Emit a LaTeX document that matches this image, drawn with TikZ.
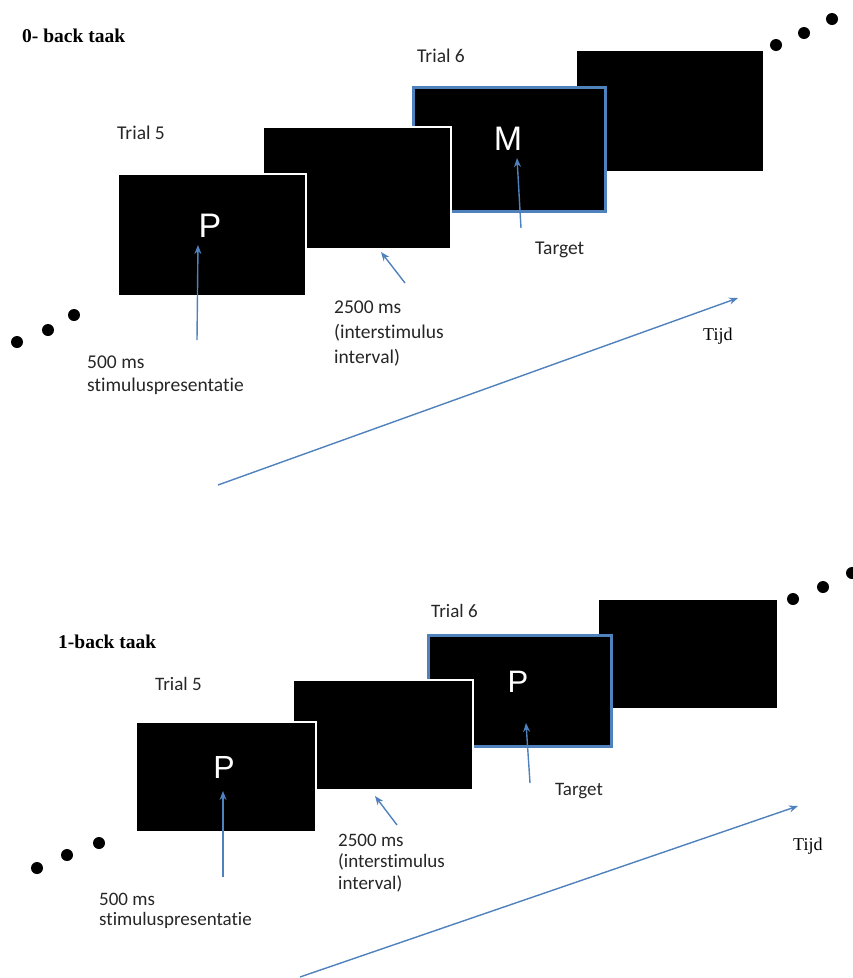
\documentclass[tikz,border=0pt]{standalone}
\usepackage{fontspec}
\setmainfont{Carlito}[Ligatures=NoCommon]
\newfontfamily\titelfont{Liberation Serif}
\newfontfamily\letterfont{Liberation Sans}
\usetikzlibrary{arrows.meta,positioning}
\definecolor{pijlblauw}{RGB}{79,129,189}

\tikzset{
  scherm/.style={fill=black, draw=white, line width=2pt, inner sep=0pt,
    minimum width=188pt, minimum height=122pt},
  klein/.style={minimum width=180pt, minimum height=110pt},
  doel/.style={draw=pijlblauw, line width=3pt},
  letter/.style={text=white, inner sep=0pt, anchor=base},
  pijl/.style={draw=pijlblauw, line width=1.4pt, -{Stealth[length=9pt,width=7pt]}},
  uitleg/.style={text=black!85, inner sep=0pt, anchor=base west, align=left},
  titel/.style={inner sep=0pt, anchor=base west, font=\titelfont\bfseries\fontsize{19.5}{20}\selectfont},
  tijd/.style={inner sep=0pt, anchor=base west, font=\titelfont\fontsize{18}{20}\selectfont}
}

\begin{document}
\begin{tikzpicture}[x=1pt, y=-1pt]
            \useasboundingbox (0,0) rectangle (853,978);
            % 0-back: screens, back to front
            \node[scherm] (s4a) at (669.5,110.5) {};
            \node[scherm, doel, minimum width=192pt, minimum height=124pt] (s3a) at (509.5,149.5) {};
            \node[scherm] (s2a) at (357,187.5) {};
            \node[scherm] (s1a) at (212,235) {};
            \node[letter, font=\letterfont\fontsize{34}{34}\selectfont] (pa) at (210,237) {P};
            \node[letter, font=\letterfont\fontsize{34}{34}\selectfont] (ma) at (508,150) {M};
            % Labels (multi-line ones sit on their last line)
            \begin{scope}[every node/.append style={font=\fontsize{19.5}{25}\selectfont}]
            \node[titel] (taak0) at (22,42) {0- back taak};
            \node[uitleg] (t5a) at (117,139) {Trial 5};
            \node[uitleg] (t6a) at (417,62) {Trial 6};
            \node[uitleg] (tga) at (535,254) {Target};
            \node[uitleg] (stima) at (87,391) {500 ms\\[-2pt]stimuluspresentatie};
            \node[uitleg] (isia) at (334,363) {2500 ms\\(interstimulus\\interval)};
            \end{scope}
            \node[tijd] (tijda) at (703,340) {Tijd};
            % Arrows
            \coordinate (sa0) at (197,340);  \coordinate (sa1) at (198,245);
            \coordinate (ia0) at (405,283);  \coordinate (ia1) at (381,252);
            \coordinate (ga0) at (521,228);  \coordinate (ga1) at (517,158);
            \coordinate (ta0) at (218,485);  \coordinate (ta1) at (738,298);
            \draw[pijl] (sa0) -- (sa1);
            \draw[pijl] (ia0) -- (ia1);
            \draw[pijl] (ga0) -- (ga1);
            \draw[pijl] (ta0) -- (ta1);
            % Dots
            \foreach \x/\y in {17/342, 48/330, 74/315, 776/45, 804/33, 832/19}
              \fill (\x,\y) circle (6pt);

            % 1-back: screens, back to front
            \node[scherm, klein] (s4b) at (687.5,654) {};
            \node[scherm, klein, doel, minimum width=183pt, minimum height=111pt] (s3b) at (520,691) {};
            \node[scherm, klein] (s2b) at (383,734.5) {};
            \node[scherm, klein] (s1b) at (226,777) {};
            \node[letter, font=\letterfont\fontsize{32}{32}\selectfont] (pb) at (224,778) {P};
            \node[letter, font=\letterfont\fontsize{31}{31}\selectfont] (pc) at (518,692) {P};
            % Labels
            \begin{scope}[every node/.append style={font=\fontsize{19}{21.5}\selectfont}]
            \node[titel] (taak1) at (58,648) {1-back taak};
            \node[uitleg] (t5b) at (155,690) {Trial 5};
            \node[uitleg] (t6b) at (431,617) {Trial 6};
            \node[uitleg] (tgb) at (555,795) {Target};
            \node[uitleg] (stimb) at (99,925) {500 ms\\[-2pt]stimuluspresentatie};
            \node[uitleg] (isib) at (338,889) {2500 ms\\(interstimulus\\interval)};
            \end{scope}
            \node[tijd] (tijdb) at (793,850) {Tijd};
            % Arrows
            \coordinate (sb0) at (223,877);  \coordinate (sb1) at (223,791);
            \coordinate (ib0) at (397,825);  \coordinate (ib1) at (375,796);
            \coordinate (gb0) at (530,783);  \coordinate (gb1) at (526,723);
            \coordinate (tb0) at (300,977);  \coordinate (tb1) at (798,806);
            \draw[pijl] (sb0) -- (sb1);
            \draw[pijl] (ib0) -- (ib1);
            \draw[pijl] (gb0) -- (gb1);
            \draw[pijl] (tb0) -- (tb1);
            % Dots
            \foreach \x/\y in {37/868, 67/855, 99/843, 793/599, 823/587, 852/573}
              \fill (\x,\y) circle (6pt);
          \end{tikzpicture}
\end{document}
